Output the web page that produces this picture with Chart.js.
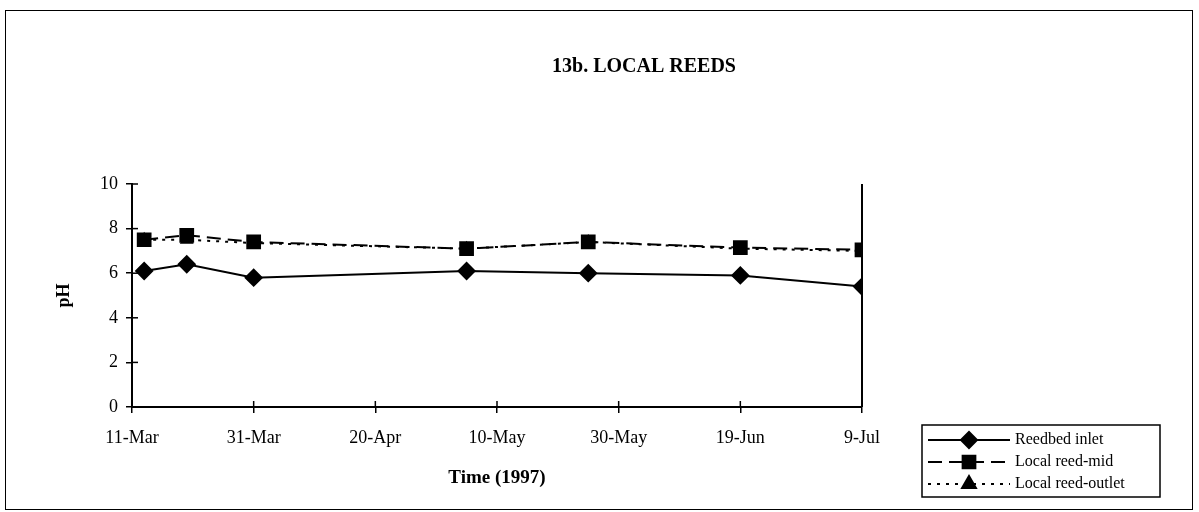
<!DOCTYPE html>
<html>
<head>
<meta charset="utf-8">
<title>13b. LOCAL REEDS</title>
<script src="https://cdn.jsdelivr.net/npm/chart.js@4.4.1/dist/chart.umd.min.js"></script>
<style>
  html, body { margin: 0; padding: 0; background: #fff; }
  #wrap { position: relative; width: 1199px; height: 512px; }
  #frame { position: absolute; left: 5px; top: 10px; width: 1188px; height: 500px; border: 1px solid #000; box-sizing: border-box; }
  canvas { position: absolute; left: 0; top: 0; }
</style>
</head>
<body>
<div id="wrap">
  <div id="frame"></div>
  <canvas id="chart" width="1199" height="512"></canvas>
</div>
<script>
const chartTitle = "13b. LOCAL REEDS";
const startDate = "1997-03-11";
const sampleDates = ["1997-03-13", "1997-03-20", "1997-03-31", "1997-05-05", "1997-05-25", "1997-06-19", "1997-07-09"];
const inletPh = [6.1, 6.4, 5.8, 6.1, 6.0, 5.9, 5.4];
const midPh = [7.5, 7.7, 7.4, 7.1, 7.4, 7.15, 7.05];
const outletPh = [7.5, 7.5, 7.35, 7.1, 7.4, 7.1, 7.0];
const seriesNames = ["Reedbed inlet", "Local reed-mid", "Local reed-outlet"];
const yTicks = [0, 2, 4, 6, 8, 10];
const xTickStep = 20;
const xSpanDays = 120;

const monthNames = ["Jan", "Feb", "Mar", "Apr", "May", "Jun", "Jul", "Aug", "Sep", "Oct", "Nov", "Dec"];
const dayMs = 86400000;
const base = Date.parse(startDate + "T00:00:00Z");
const dayOffset = d => Math.round((Date.parse(d + "T00:00:00Z") - base) / dayMs);
const dayLabel = v => {
  const d = new Date(base + v * dayMs);
  return `${d.getUTCDate()}-${monthNames[d.getUTCMonth()]}`;
};
const points = values => sampleDates.map((d, i) => ({ x: dayOffset(d), y: values[i] }));

const serif = "'Liberation Serif', 'Times New Roman', serif";

// ticks in the reference cross the axis, so draw the inner half by hand
const innerTicks = {
  id: "innerTicks",
  afterDatasetsDraw(chart) {
    const { ctx, chartArea, scales } = chart;
    ctx.save();
    ctx.strokeStyle = "#000";
    ctx.lineWidth = 1.5;
    scales.y.ticks.forEach(t => {
      const y = scales.y.getPixelForValue(t.value);
      ctx.beginPath();
      ctx.moveTo(chartArea.left, y);
      ctx.lineTo(chartArea.left + 6, y);
      ctx.stroke();
    });
    scales.x.ticks.forEach(t => {
      const x = scales.x.getPixelForValue(t.value);
      ctx.beginPath();
      ctx.moveTo(x, chartArea.bottom);
      ctx.lineTo(x, chartArea.bottom - 6);
      ctx.stroke();
    });
    // closing line on the right like the reference
    ctx.lineWidth = 2;
    ctx.beginPath();
    ctx.moveTo(chartArea.right, chartArea.bottom);
    ctx.lineTo(chartArea.right, chartArea.top);
    ctx.stroke();
    ctx.restore();
  }
};

const titleText = {
  id: "titleText",
  afterDraw(chart) {
    const { ctx } = chart;
    ctx.save();
    ctx.fillStyle = "#000";
    ctx.font = `bold 20px ${serif}`;
    ctx.textAlign = "center";
    ctx.textBaseline = "middle";
    ctx.fillText(chartTitle, 644, 67);
    ctx.restore();
  }
};

const boxLegend = {
  id: "boxLegend",
  afterDraw(chart) {
    const { ctx } = chart;
    const box = { left: 922, top: 425, width: 238, height: 72 };
    ctx.save();
    ctx.fillStyle = "#fff";
    ctx.fillRect(box.left, box.top, box.width, box.height);
    ctx.strokeStyle = "#000";
    ctx.lineWidth = 1.5;
    ctx.strokeRect(box.left, box.top, box.width, box.height);
    chart.data.datasets.forEach((ds, i) => {
      const y = box.top + 15 + i * 22;
      ctx.strokeStyle = "#000";
      ctx.lineWidth = ds.borderWidth;
      ctx.setLineDash(ds.borderDash || []);
      ctx.beginPath();
      ctx.moveTo(box.left + 6, y);
      ctx.lineTo(box.left + 88, y);
      ctx.stroke();
      ctx.setLineDash([]);
      ctx.fillStyle = "#000";
      Chart.helpers.drawPoint(ctx, {
        pointStyle: ds.pointStyle,
        radius: ds.pointStyle === "triangle" ? 8 : ds.pointRadius,
        borderWidth: 1
      }, box.left + 47, y);
      ctx.font = `16px ${serif}`;
      ctx.textAlign = "left";
      ctx.textBaseline = "middle";
      ctx.fillText(ds.label, box.left + 93, y);
    });
    ctx.restore();
  }
};

function lineSet(label, values, dash, style, radius) {
  return {
    label,
    data: points(values),
    borderColor: "#000",
    backgroundColor: "#000",
    pointBackgroundColor: "#000",
    pointBorderColor: "#000",
    borderWidth: 2,
    borderDash: dash,
    pointStyle: style,
    pointRadius: radius,
    pointHoverRadius: radius,
    tension: 0
  };
}

new Chart(document.getElementById("chart"), {
  type: "line",
  data: {
    datasets: [
      lineSet(seriesNames[0], inletPh, [], "rectRot", 8),
      lineSet(seriesNames[1], midPh, [14, 7], "rect", 9),
      lineSet(seriesNames[2], outletPh, [3, 6], "triangle", 6)
    ]
  },
  options: {
    responsive: false,
    animation: false,
    layout: { padding: { left: 40, right: 337, top: 184, bottom: 21 } },
    plugins: {
      legend: { display: false },
      tooltip: { enabled: false },
      title: { display: false }
    },
    scales: {
      x: {
        type: "linear",
        min: 0,
        max: xSpanDays,
        afterFit: scale => { scale.height = 84; },
        ticks: {
          stepSize: xTickStep,
          callback: v => dayLabel(v),
          color: "#000",
          font: { family: serif, size: 18 },
          padding: 14,
          maxRotation: 0
        },
        grid: { drawOnChartArea: false, color: "#000", lineWidth: 1.5, tickLength: 6 },
        border: { color: "#000", width: 2 },
        title: {
          display: true,
          text: "Time (1997)",
          color: "#000",
          font: { family: serif, size: 19, weight: "bold" },
          padding: { top: 0, bottom: 2 }
        }
      },
      y: {
        min: yTicks[0],
        max: yTicks[yTicks.length - 1],
        afterFit: scale => { scale.width = 92; },
        afterBuildTicks: scale => { scale.ticks = yTicks.map(v => ({ value: v })); },
        ticks: {
          color: "#000",
          font: { family: serif, size: 18 },
          padding: 8
        },
        grid: { drawOnChartArea: false, color: "#000", lineWidth: 1.5, tickLength: 6 },
        border: { color: "#000", width: 2 },
        title: {
          display: true,
          text: "pH",
          color: "#000",
          font: { family: serif, size: 18, weight: "bold" },
          padding: { top: 14, bottom: 0 }
        }
      }
    }
  },
  plugins: [innerTicks, titleText, boxLegend]
});
</script>
</body>
</html>
